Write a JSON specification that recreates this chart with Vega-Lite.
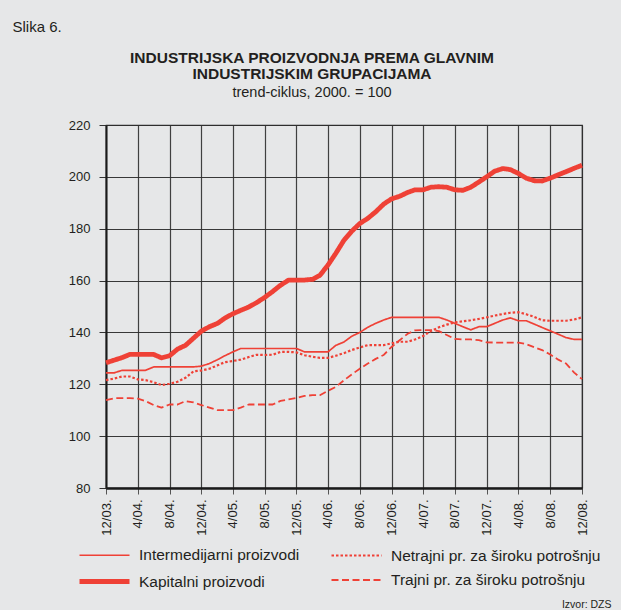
{
  "$schema": "https://vega.github.io/schema/vega-lite/v6.json",
  "autosize": {"type": "none"},
  "padding": {"left": 106, "top": 125, "right": 39, "bottom": 122},
  "width": 476,
  "height": 363,
  "background": "#e6e7e8",
  "config": {
    "font": "Liberation Sans",
    "view": {"stroke": "#333", "strokeWidth": 1.2}
  },
  "title": {
    "text": ["INDUSTRIJSKA PROIZVODNJA PREMA GLAVNIM", "INDUSTRIJSKIM GRUPACIJAMA"],
    "subtitle": "trend-ciklus, 2000. = 100",
    "anchor": "middle",
    "dx": -32,
    "fontSize": 15.5,
    "fontWeight": "bold",
    "color": "#231f20",
    "lineHeight": 16,
    "subtitleFontSize": 14.5,
    "subtitleColor": "#231f20",
    "subtitlePadding": 3,
    "offset": -80
  },
  "data": {
    "values": [
      {"m": "2003-12-01", "a": 124.4, "b": 121.6, "c": 128.3, "d": 113.9},
      {"m": "2004-01-01", "a": 124.4, "b": 122.2, "c": 129.3, "d": 114.6},
      {"m": "2004-02-01", "a": 125.4, "b": 123.0, "c": 130.3, "d": 114.7},
      {"m": "2004-03-01", "a": 125.4, "b": 123.0, "c": 131.5, "d": 114.7},
      {"m": "2004-04-01", "a": 125.4, "b": 121.9, "c": 131.5, "d": 114.5},
      {"m": "2004-05-01", "a": 125.4, "b": 121.6, "c": 131.5, "d": 113.5},
      {"m": "2004-06-01", "a": 126.7, "b": 120.8, "c": 131.5, "d": 112.0},
      {"m": "2004-07-01", "a": 126.7, "b": 119.7, "c": 130.2, "d": 111.0},
      {"m": "2004-08-01", "a": 126.7, "b": 120.2, "c": 131.0, "d": 112.2},
      {"m": "2004-09-01", "a": 126.7, "b": 121.0, "c": 133.6, "d": 112.2},
      {"m": "2004-10-01", "a": 126.7, "b": 122.5, "c": 135.0, "d": 113.5},
      {"m": "2004-11-01", "a": 126.7, "b": 125.0, "c": 137.8, "d": 113.0},
      {"m": "2004-12-01", "a": 127.0, "b": 125.3, "c": 140.5, "d": 112.0},
      {"m": "2005-01-01", "a": 128.0, "b": 126.0, "c": 142.2, "d": 111.0},
      {"m": "2005-02-01", "a": 129.5, "b": 127.3, "c": 143.5, "d": 110.0},
      {"m": "2005-03-01", "a": 131.0, "b": 128.5, "c": 145.5, "d": 110.0},
      {"m": "2005-04-01", "a": 132.5, "b": 129.0, "c": 147.2, "d": 110.0},
      {"m": "2005-05-01", "a": 133.8, "b": 129.5, "c": 148.5, "d": 111.0},
      {"m": "2005-06-01", "a": 133.8, "b": 130.5, "c": 149.8, "d": 112.2},
      {"m": "2005-07-01", "a": 133.8, "b": 131.4, "c": 151.5, "d": 112.2},
      {"m": "2005-08-01", "a": 133.8, "b": 131.3, "c": 153.5, "d": 112.2},
      {"m": "2005-09-01", "a": 133.8, "b": 131.4, "c": 155.8, "d": 112.2},
      {"m": "2005-10-01", "a": 133.8, "b": 132.5, "c": 158.2, "d": 113.6},
      {"m": "2005-11-01", "a": 133.8, "b": 132.5, "c": 160.2, "d": 114.2},
      {"m": "2005-12-01", "a": 133.8, "b": 132.3, "c": 160.2, "d": 114.7},
      {"m": "2006-01-01", "a": 132.5, "b": 131.2, "c": 160.2, "d": 115.5},
      {"m": "2006-02-01", "a": 132.5, "b": 130.6, "c": 160.5, "d": 115.8},
      {"m": "2006-03-01", "a": 132.5, "b": 130.2, "c": 162.0, "d": 115.8},
      {"m": "2006-04-01", "a": 132.5, "b": 130.2, "c": 166.0, "d": 117.5},
      {"m": "2006-05-01", "a": 135.0, "b": 131.0, "c": 170.5, "d": 119.0},
      {"m": "2006-06-01", "a": 136.3, "b": 132.0, "c": 175.5, "d": 121.5},
      {"m": "2006-07-01", "a": 138.5, "b": 133.2, "c": 179.0, "d": 123.8},
      {"m": "2006-08-01", "a": 140.0, "b": 134.2, "c": 182.0, "d": 126.0},
      {"m": "2006-09-01", "a": 142.0, "b": 135.1, "c": 184.0, "d": 128.0},
      {"m": "2006-10-01", "a": 143.5, "b": 135.1, "c": 186.5, "d": 129.8},
      {"m": "2006-11-01", "a": 144.8, "b": 135.1, "c": 189.5, "d": 131.3},
      {"m": "2006-12-01", "a": 145.8, "b": 135.8, "c": 191.5, "d": 134.4},
      {"m": "2007-01-01", "a": 145.8, "b": 136.4, "c": 192.5, "d": 137.0},
      {"m": "2007-02-01", "a": 145.8, "b": 136.4, "c": 194.0, "d": 139.5},
      {"m": "2007-03-01", "a": 145.8, "b": 137.3, "c": 195.0, "d": 140.8},
      {"m": "2007-04-01", "a": 145.8, "b": 138.6, "c": 195.0, "d": 140.9},
      {"m": "2007-05-01", "a": 145.8, "b": 140.5, "c": 196.0, "d": 140.9},
      {"m": "2007-06-01", "a": 145.8, "b": 142.0, "c": 196.2, "d": 140.5},
      {"m": "2007-07-01", "a": 144.8, "b": 143.0, "c": 196.0, "d": 139.0},
      {"m": "2007-08-01", "a": 143.5, "b": 143.9, "c": 195.0, "d": 137.5},
      {"m": "2007-09-01", "a": 142.2, "b": 144.3, "c": 194.8, "d": 137.3},
      {"m": "2007-10-01", "a": 141.0, "b": 144.7, "c": 196.0, "d": 137.3},
      {"m": "2007-11-01", "a": 142.2, "b": 145.2, "c": 198.0, "d": 137.0},
      {"m": "2007-12-01", "a": 142.2, "b": 145.8, "c": 200.0, "d": 136.2},
      {"m": "2008-01-01", "a": 143.5, "b": 146.5, "c": 202.2, "d": 136.1},
      {"m": "2008-02-01", "a": 144.8, "b": 147.1, "c": 203.2, "d": 136.1},
      {"m": "2008-03-01", "a": 145.6, "b": 147.6, "c": 202.8, "d": 136.1},
      {"m": "2008-04-01", "a": 144.5, "b": 147.8, "c": 201.3, "d": 136.1},
      {"m": "2008-05-01", "a": 144.5, "b": 147.0, "c": 199.5, "d": 135.5},
      {"m": "2008-06-01", "a": 143.2, "b": 146.0, "c": 198.5, "d": 134.3},
      {"m": "2008-07-01", "a": 141.9, "b": 144.7, "c": 198.4, "d": 133.2},
      {"m": "2008-08-01", "a": 140.6, "b": 144.5, "c": 199.5, "d": 131.5},
      {"m": "2008-09-01", "a": 139.3, "b": 144.5, "c": 200.8, "d": 129.5},
      {"m": "2008-10-01", "a": 138.0, "b": 144.5, "c": 202.0, "d": 128.0},
      {"m": "2008-11-01", "a": 137.3, "b": 145.0, "c": 203.3, "d": 124.5},
      {"m": "2008-12-01", "a": 137.3, "b": 145.8, "c": 204.5, "d": 122.0}
    ]
  },
  "transform": [{"fold": ["a", "b", "c", "d"], "as": ["s", "v"]}],
  "mark": {"type": "line", "color": "#ef4136", "strokeCap": "butt", "strokeJoin": "round"},
  "encoding": {
    "x": {
      "field": "m",
      "type": "temporal",
      "scale": {
        "type": "utc",
        "nice": false,
        "domain": [
          {"year": 2003, "month": 12, "date": 1, "utc": true},
          {"year": 2008, "month": 12, "date": 1, "utc": true}
        ]
      },
      "axis": {
        "values": [
          {"year": 2003, "month": 12, "date": 1, "utc": true},
          {"year": 2004, "month": 4, "date": 1, "utc": true},
          {"year": 2004, "month": 8, "date": 1, "utc": true},
          {"year": 2004, "month": 12, "date": 1, "utc": true},
          {"year": 2005, "month": 4, "date": 1, "utc": true},
          {"year": 2005, "month": 8, "date": 1, "utc": true},
          {"year": 2005, "month": 12, "date": 1, "utc": true},
          {"year": 2006, "month": 4, "date": 1, "utc": true},
          {"year": 2006, "month": 8, "date": 1, "utc": true},
          {"year": 2006, "month": 12, "date": 1, "utc": true},
          {"year": 2007, "month": 4, "date": 1, "utc": true},
          {"year": 2007, "month": 8, "date": 1, "utc": true},
          {"year": 2007, "month": 12, "date": 1, "utc": true},
          {"year": 2008, "month": 4, "date": 1, "utc": true},
          {"year": 2008, "month": 8, "date": 1, "utc": true},
          {"year": 2008, "month": 12, "date": 1, "utc": true}
        ],
        "labelExpr": "utcFormat(datum.value, '%-m/%y.')",
        "labelAngle": -90,
        "labelFontSize": 13,
        "labelColor": "#231f20",
        "labelPadding": 5,
        "labelOverlap": false,
        "labelFlush": false,
        "domainColor": "#1a1a1a",
        "domainWidth": 2.5,
        "tickColor": "#555",
        "tickSize": 6,
        "tickWidth": 1,
        "grid": true,
        "gridColor": "#2e2e2e",
        "gridOpacity": 0.9,
        "gridWidth": 1.2,
        "title": "Izvor: DZS",
        "titleAnchor": "end",
        "titleAlign": "right",
        "titleBaseline": "alphabetic",
        "titleX": 505,
        "titleY": 119,
        "titleFontSize": 10.5,
        "titleFontWeight": "normal",
        "titleColor": "#231f20"
      }
    },
    "y": {
      "field": "v",
      "type": "quantitative",
      "scale": {"domain": [80, 220], "nice": false, "zero": false},
      "axis": {
        "values": [80, 100, 120, 140, 160, 180, 200, 220],
        "labelFontSize": 13,
        "labelColor": "#231f20",
        "labelPadding": 9,
        "domainColor": "#1a1a1a",
        "domainWidth": 2,
        "tickColor": "#333",
        "tickSize": 7,
        "tickWidth": 1,
        "grid": true,
        "gridColor": "#2e2e2e",
        "gridOpacity": 0.95,
        "gridWidth": 1.2,
        "title": "Slika 6.",
        "titleAngle": 0,
        "titleAlign": "left",
        "titleBaseline": "alphabetic",
        "titleX": -94,
        "titleY": -94,
        "titleFontSize": 15,
        "titleFontWeight": "normal",
        "titleColor": "#231f20"
      }
    },
    "detail": {"field": "s", "type": "nominal"},
    "strokeWidth": {
      "field": "s",
      "type": "nominal",
      "scale": {"type": "ordinal", "domain": ["a", "c", "b", "d"], "range": [1.7, 4.8, 2.2, 1.8]},
      "legend": null
    },
    "strokeDash": {
      "field": "s",
      "type": "nominal",
      "scale": {"domain": ["a", "c", "b", "d"], "range": [[1, 0], [1, 0], [2.5, 2], [7, 3.5]]},
      "legend": {
        "title": null,
        "orient": "none",
        "legendX": -14,
        "legendY": 419,
        "columns": 2,
        "columnPadding": 27,
        "rowPadding": 5,
        "symbolType": "M-2.5,0H2.5",
        "symbolSize": 400,
        "symbolStrokeColor": "#ef4136",
        "labelOffset": 22,
        "labelFontSize": 15.5,
        "labelLimit": 400,
        "labelColor": "#231f20",
        "labelExpr": "datum.label == 'a' ? 'Intermedijarni proizvodi' : datum.label == 'b' ? 'Netrajni pr. za široku potrošnju' : datum.label == 'c' ? 'Kapitalni proizvodi' : 'Trajni pr. za široku potrošnju'"
      }
    }
  }
}
